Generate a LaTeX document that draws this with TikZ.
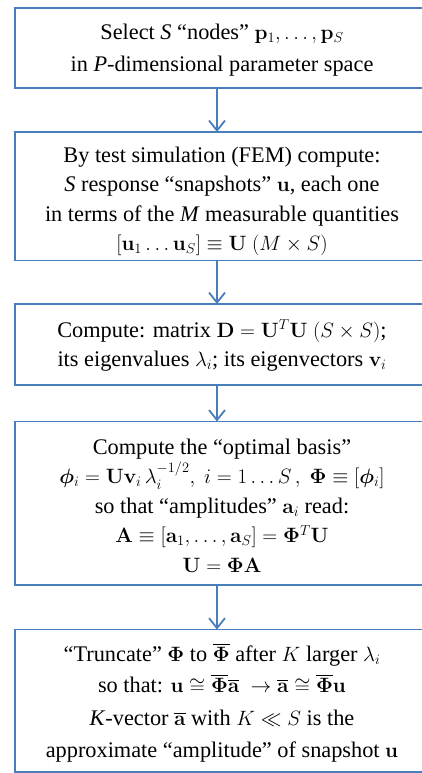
\documentclass[tikz,border=0pt]{standalone}
\usepackage{amsmath,bm}
\usepackage[no-math]{fontspec}
\setmainfont{Liberation Serif}
\usetikzlibrary{arrows.meta}
\definecolor{boxblue}{HTML}{4A7EBB}
\tikzset{
  stepbox/.style={draw=boxblue, line width=1.8pt, minimum width=414pt,
    inner sep=0pt, outer sep=0pt, align=center,
    font=\fontsize{22.3}{29.5}\selectfont},
  flow/.style={draw=boxblue, line width=1.8pt,
    -{Straight Barb[length=10pt,width=16pt,line width=1.8pt]}}
}
\newcommand{\olbf}[1]{\overline{\mathbf{#1}}}
\begin{document}
\begin{tikzpicture}[x=1pt,y=-1pt]
\clip (0,0) rectangle (422,773);
\node[stepbox, minimum height=80pt] (b1) at (222,48)
  {\rule{0pt}{20pt}Select \textit{S} “nodes” $\mathbf{p}_1,\ldots,\mathbf{p}_S$\\[2pt]
   in \textit{P}-dimensional parameter space};
\node[stepbox, minimum height=128.5pt] (b2) at (222,196.2)
  {\rule{0pt}{26pt}By test simulation (FEM) compute:\\
   \textit{S} response “snapshots” $\mathbf{u}$, each one\\
   in terms of the \textit{M} measurable quantities\\
   $[\mathbf{u}_1 \ldots \mathbf{u}_S] \equiv \mathbf{U}\ (M \times S)$};
\node[stepbox, minimum height=81pt] (b3) at (222,344.5)
  {\rule{0pt}{20pt}Compute: matrix $\mathbf{D} = \mathbf{U}^T\mathbf{U}\ (S \times S)$;\\
   its eigenvalues $\lambda_i$; its eigenvectors $\mathbf{v}_i$};
\node[stepbox, minimum height=163.5pt] (b4) at (222,503.2)
  {\rule{0pt}{20pt}Compute the “optimal basis”\\
   $\bm{\phi}_i = \mathbf{U}\mathbf{v}_i\,\lambda_i^{-1/2},\ i = 1 \ldots S\,,\ \mathbf{\Phi} \equiv [\bm{\phi}_i]$\\
   so that “amplitudes” $\mathbf{a}_i$ read:\\
   $\mathbf{A} \equiv [\mathbf{a}_1,\ldots,\mathbf{a}_S] = \mathbf{\Phi}^T\mathbf{U}$\\
   $\mathbf{U} = \mathbf{\Phi}\mathbf{A}$};
\node[stepbox, minimum height=142.5pt] (b5) at (222,700.8)
  {\rule{0pt}{22pt}“Truncate” $\mathbf{\Phi}$ to $\olbf{\Phi}$ after $K$ larger $\lambda_i$\\[2pt]
   so that: $\mathbf{u} \cong \olbf{\Phi}\olbf{a}\ \to \olbf{a} \cong \olbf{\Phi}\mathbf{u}$\\[3pt]
   \textit{K}-vector $\olbf{a}$ with $K \ll S$ is the\\[3pt]
   approximate “amplitude” of snapshot $\mathbf{u}$};
\draw[flow] ([xshift=-5pt]b1.south) -- ([xshift=-5pt]b2.north);
\draw[flow] ([xshift=-5pt]b2.south) -- ([xshift=-5pt]b3.north);
\draw[flow] ([xshift=-5pt]b3.south) -- ([xshift=-5pt]b4.north);
\draw[flow] ([xshift=-5pt]b4.south) -- ([xshift=-5pt]b5.north);
\end{tikzpicture}
\end{document}
